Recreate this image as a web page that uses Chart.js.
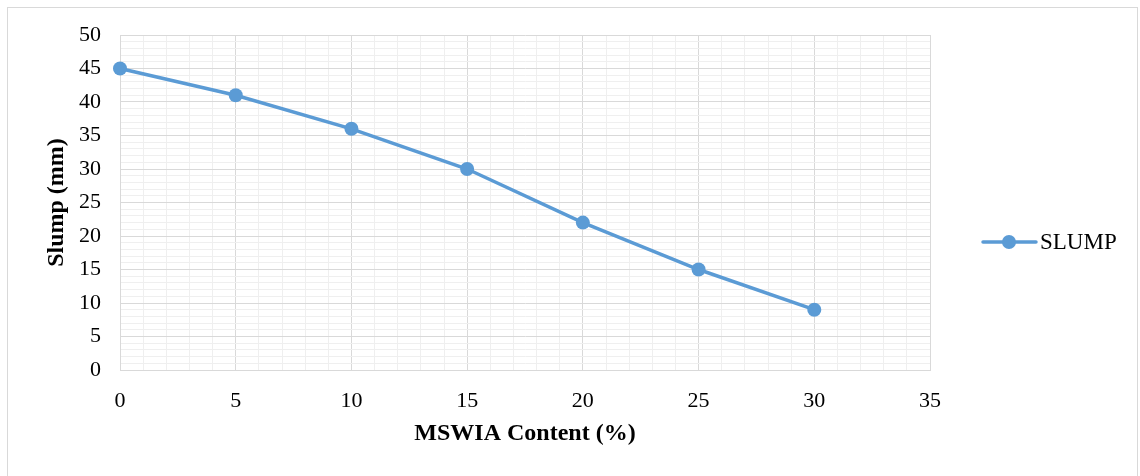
<!DOCTYPE html>
<html>
<head>
<meta charset="utf-8">
<script src="https://cdn.jsdelivr.net/npm/chart.js@4"></script>
<style>
    body { margin: 0; background: #fff; }
    #wrap { position: relative; width: 1140px; height: 476px; }
    #frame { position: absolute; left: 7px; top: 7px; width: 1131px; height: 475px; border: 1px solid #d9d9d9; box-sizing: border-box; pointer-events: none; }
    canvas { position: absolute; left: 0; top: 0; }
</style>
</head>
<body>
<div id="wrap">
    <canvas id="line-chart" width="1140" height="476"></canvas>
    <div id="frame"></div>
</div>
<script>
const content = [0, 5, 10, 15, 20, 25, 30];
const slump = [45, 41, 36, 30, 22, 15, 9];
const seriesName = 'SLUMP';
const xTitle = 'MSWIA Content (%)';
const yTitle = 'Slump (mm)';

const blue = '#5b9bd5';
const major = '#d9d9d9';
const minor = '#efefef';

function gridColor(ctx) {
    return ctx.tick && ctx.tick.value % 5 === 0 ? major : minor;
}

// legend with line + marker like the original
const sideLegend = {
    id: 'sideLegend',
    afterDraw(chart) {
        let ctx = chart.ctx;
        let ds = chart.data.datasets[0];
        let y = 242;
        ctx.save();
        ctx.strokeStyle = ds.borderColor;
        ctx.lineWidth = 3.5;
        ctx.lineCap = 'round';
        ctx.beginPath();
        ctx.moveTo(983, y);
        ctx.lineTo(1036, y);
        ctx.stroke();
        ctx.fillStyle = ds.borderColor;
        ctx.beginPath();
        ctx.arc(1009, y, 7, 0, Math.PI * 2);
        ctx.fill();
        ctx.fillStyle = '#000';
        ctx.font = '23px "Liberation Serif"';
        ctx.textBaseline = 'middle';
        ctx.fillText(ds.label, 1040, y + 1);
        ctx.restore();
    }
};

new Chart(document.getElementById('line-chart'), {
    type: 'line',
    data: {
        datasets: [{
            label: seriesName,
            data: content.map((x, i) => ({ x: x, y: slump[i] })),
            borderColor: blue,
            backgroundColor: blue,
            borderWidth: 3.5,
            pointRadius: 7,
            pointHoverRadius: 7,
            pointBorderWidth: 0,
            tension: 0,
            fill: false,
            clip: false
        }]
    },
    options: {
        responsive: false,
        animation: false,
        events: [],
        layout: { padding: { left: 0, top: 35, right: 210, bottom: 0 } },
        plugins: {
            legend: { display: false },
            tooltip: { enabled: false }
        },
        scales: {
            x: {
                type: 'linear',
                min: 0,
                max: 35,
                afterFit: (s) => { s.height = 106; },
                border: { display: true, color: major, width: 1 },
                grid: { color: gridColor, drawTicks: false, lineWidth: 1 },
                ticks: {
                    stepSize: 1,
                    autoSkip: false,
                    maxRotation: 0,
                    padding: 18,
                    color: '#000',
                    font: { family: 'Liberation Serif', size: 22 },
                    callback: (v) => v % 5 === 0 ? v : ''
                },
                title: {
                    display: true,
                    text: xTitle,
                    color: '#000',
                    font: { family: 'Liberation Serif', size: 24, weight: 'bold' },
                    padding: { top: 0, bottom: 28 }
                }
            },
            y: {
                min: 0,
                max: 50,
                afterFit: (s) => { s.width = 120; },
                border: { display: true, color: major, width: 1 },
                grid: { color: gridColor, drawTicks: false, lineWidth: 1 },
                ticks: {
                    stepSize: 1,
                    autoSkip: false,
                    padding: 19,
                    color: '#000',
                    font: { family: 'Liberation Serif', size: 22 },
                    callback: (v) => v % 5 === 0 ? v : ''
                },
                title: {
                    display: true,
                    text: yTitle,
                    color: '#000',
                    font: { family: 'Liberation Serif', size: 24, weight: 'bold' },
                    padding: { top: 42, bottom: 0 }
                }
            }
        }
    },
    plugins: [sideLegend]
});
</script>
</body>
</html>
